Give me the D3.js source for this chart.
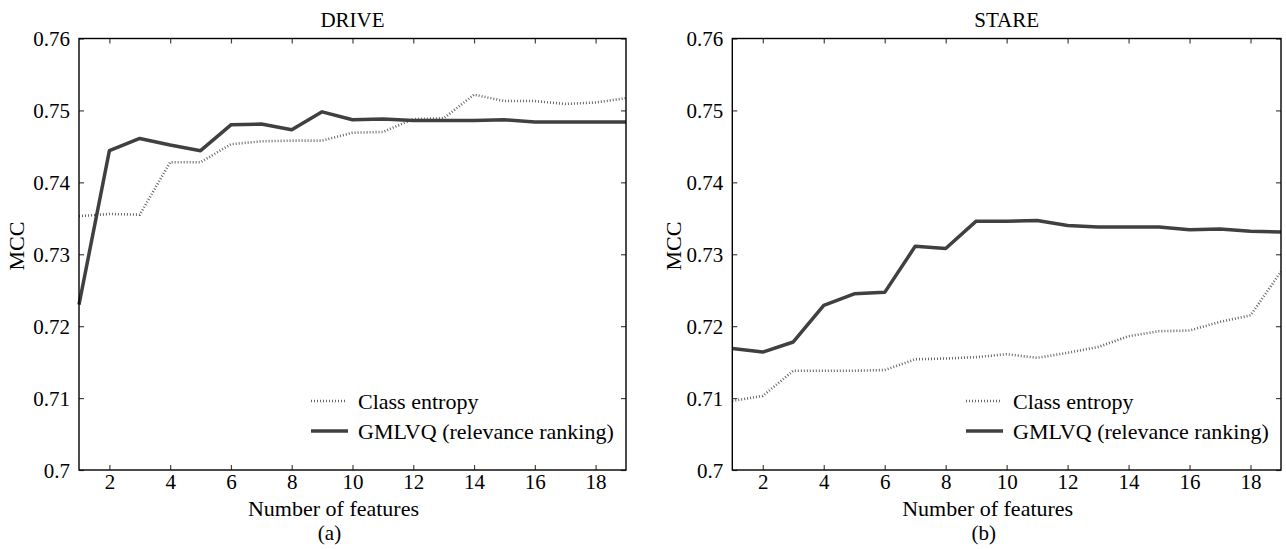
<!doctype html>
<html>
<head>
  <meta charset="UTF-8">
  <title>MCC vs number of features</title>
  <script src="https://cdn.jsdelivr.net/npm/d3@7"></script>
  <style>
    body { margin: 0; background: #fff; }
    text { font-family: "Liberation Serif", "Times New Roman", serif; fill: #000; }
  </style>
</head>
<body>
  <script>
    var W = 1286, H = 549;

    var features = [1, 2, 3, 4, 5, 6, 7, 8, 9, 10, 11, 12, 13, 14, 15, 16, 17, 18, 19];
    var xTicks = [2, 4, 6, 8, 10, 12, 14, 16, 18];
    var yTicks = [0.70, 0.71, 0.72, 0.73, 0.74, 0.75, 0.76];
    var yTickLabels = ["0.7", "0.71", "0.72", "0.73", "0.74", "0.75", "0.76"];
    var seriesNames = ["Class entropy", "GMLVQ (relevance ranking)"];

    // DRIVE
    var driveEntropy = [0.7353, 0.7356, 0.7355, 0.7428, 0.7428, 0.7453, 0.7457, 0.7458, 0.7458, 0.7469,
                        0.7470, 0.7488, 0.7489, 0.7522, 0.7513, 0.7513, 0.7509, 0.7511, 0.7517];
    var driveGmlvq = [0.7230, 0.7444, 0.7461, 0.7452, 0.7444, 0.7480, 0.7481, 0.7473, 0.7498, 0.7487,
                      0.7488, 0.7486, 0.7486, 0.7486, 0.7487, 0.7484, 0.7484, 0.7484, 0.7484];

    // STARE
    var stareEntropy = [0.7096, 0.7103, 0.7138, 0.7138, 0.7138, 0.7139, 0.7154, 0.7155, 0.7157, 0.7161,
                        0.7156, 0.7163, 0.7171, 0.7186, 0.7193, 0.7194, 0.7206, 0.7215, 0.7276];
    var stareGmlvq = [0.7169, 0.7164, 0.7178, 0.7229, 0.7245, 0.7247, 0.7311, 0.7308, 0.7346, 0.7346,
                      0.7347, 0.7340, 0.7338, 0.7338, 0.7338, 0.7334, 0.7335, 0.7332, 0.7331];

    var svg = d3.select("body").append("svg")
      .attr("width", W)
      .attr("height", H);

    panel({ left: 79, right: 626, top: 38.5, bottom: 470, title: "DRIVE", tag: "(a)",
            entropy: driveEntropy, gmlvq: driveGmlvq, ylabX: 23.5 });
    panel({ left: 732.3, right: 1281, top: 38.5, bottom: 470, title: "STARE", tag: "(b)",
            entropy: stareEntropy, gmlvq: stareGmlvq, ylabX: 681 });

    function panel(p) {
      var g = svg.append("g");
      var x = d3.scaleLinear().domain([1, 19]).range([p.left, p.right]);
      var y = d3.scaleLinear().domain([0.70, 0.76]).range([p.bottom, p.top]);

      var line = d3.line()
        .x(function(d, i) { return x(features[i]); })
        .y(function(d) { return y(d); });

      // data lines
      g.append("path").datum(p.entropy)
        .attr("d", line)
        .attr("fill", "none")
        .attr("stroke", "#666")
        .attr("stroke-width", 2.6)
        .attr("stroke-dasharray", "1,2");
      g.append("path").datum(p.gmlvq)
        .attr("d", line)
        .attr("fill", "none")
        .attr("stroke", "#404040")
        .attr("stroke-width", 3.5)
        .attr("stroke-linejoin", "round");

      // axes: inward ticks on all four sides
      var bottom = g.append("g").attr("transform", "translate(0," + p.bottom + ")")
        .call(d3.axisBottom(x).tickValues(xTicks).tickSize(-5).tickPadding(4));
      var top = g.append("g").attr("transform", "translate(0," + p.top + ")")
        .call(d3.axisTop(x).tickValues(xTicks).tickSize(-5).tickFormat(""));
      var leftAx = g.append("g").attr("transform", "translate(" + p.left + ",0)")
        .call(d3.axisLeft(y).tickValues(yTicks).tickSize(-5).tickPadding(9)
          .tickFormat(function(d, i) { return yTickLabels[i]; }));
      var rightAx = g.append("g").attr("transform", "translate(" + p.right + ",0)")
        .call(d3.axisRight(y).tickValues(yTicks).tickSize(-5).tickFormat(""));

      [bottom, top, leftAx, rightAx].forEach(function(a) {
        a.attr("font-family", "Liberation Serif, serif");
        a.select(".domain").remove();
        a.selectAll(".tick line").attr("stroke", "#444").attr("stroke-width", 1.2);
        a.selectAll("text").attr("font-size", 21).attr("fill", "#000");
      });
      bottom.selectAll("text").attr("dy", "0.72em");
      leftAx.selectAll("text").attr("dy", "0.34em");

      // frame
      g.append("rect")
        .attr("x", p.left).attr("y", p.top)
        .attr("width", p.right - p.left).attr("height", p.bottom - p.top)
        .attr("fill", "none").attr("stroke", "#000").attr("stroke-width", 1.4);

      // labels
      var cx = (p.left + p.right) / 2;
      g.append("text").attr("x", cx).attr("y", 27)
        .attr("text-anchor", "middle").attr("font-size", 21).text(p.title);
      g.append("text").attr("x", cx - 19).attr("y", 516)
        .attr("text-anchor", "middle").attr("font-size", 22).text("Number of features");
      g.append("text").attr("x", cx - 23).attr("y", 540)
        .attr("text-anchor", "middle").attr("font-size", 21).text(p.tag);
      g.append("text")
        .attr("transform", "translate(" + p.ylabX + "," + 246 + ") rotate(-90)")
        .attr("text-anchor", "middle").attr("font-size", 22).text("MCC");

      // legend
      var lg = g.append("g");
      lg.append("line")
        .attr("x1", p.right - 315).attr("x2", p.right - 280)
        .attr("y1", 401).attr("y2", 401)
        .attr("stroke", "#666").attr("stroke-width", 2.6).attr("stroke-dasharray", "1,2");
      lg.append("line")
        .attr("x1", p.right - 315).attr("x2", p.right - 278)
        .attr("y1", 431).attr("y2", 431)
        .attr("stroke", "#404040").attr("stroke-width", 3.5);
      lg.selectAll("text.leg").data(seriesNames).enter().append("text")
        .attr("class", "leg")
        .attr("x", p.right - 268)
        .attr("y", function(d, i) { return 401 + 30 * i + 7.5; })
        .attr("font-size", 22)
        .text(function(d) { return d; });
    }
  </script>
</body>
</html>
